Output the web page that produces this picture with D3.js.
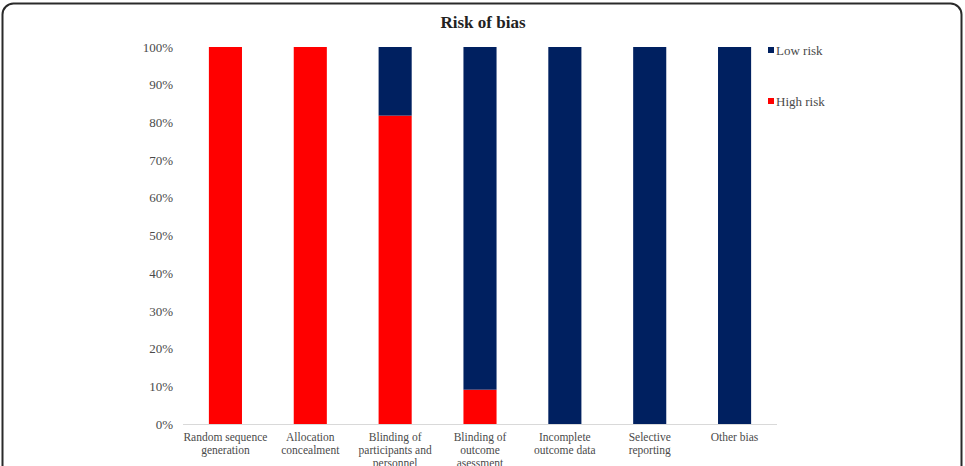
<!DOCTYPE html>
<html><head><meta charset="utf-8">
<script src="https://cdn.jsdelivr.net/npm/d3@7"></script>
<style>body{margin:0;background:#fff;}svg{display:block;}</style>
</head><body>
<svg id="c" width="965" height="466"></svg>
<script>
const categories = [
  ["Random sequence", "generation"],
  ["Allocation", "concealment"],
  ["Blinding of", "participants and", "personnel"],
  ["Blinding of", "outcome", "asessment"],
  ["Incomplete", "outcome data"],
  ["Selective", "reporting"],
  ["Other bias"]
];
const highRisk = [100, 100, 81.8, 9.1, 0, 0, 0];
const lowRisk  = [0, 0, 18.2, 90.9, 100, 100, 100];
const seriesNames = ["Low risk", "High risk"];
const seriesColors = ["#002060", "#FF0000"];
const yTicks = [0,10,20,30,40,50,60,70,80,90,100];

const svg = d3.select("#c");
const font = "'Liberation Serif','Times New Roman',serif";
const txt = "#4a4a4a";

svg.append("rect").attr("x",2.5).attr("y",3.5).attr("width",959).attr("height",480)
  .attr("rx",11).attr("fill","#fff").attr("stroke","#2a2a2a").attr("stroke-width",2);

svg.append("text").attr("x",483).attr("y",28).attr("text-anchor","middle")
  .attr("font-family",font).attr("font-weight","bold").attr("font-size",17).attr("fill","#222")
  .text("Risk of bias");

const x = d3.scaleBand().domain(d3.range(categories.length)).range([183,777]).paddingInner(0.61).paddingOuter(0.305);
const y = d3.scaleLinear().domain([0,100]).range([424,47]);

const yAxis = d3.axisLeft(y).tickValues(yTicks).tickFormat(d=>d+"%").tickSize(0).tickPadding(10);
const gy = svg.append("g").attr("transform","translate(183,0)").call(yAxis);
gy.select(".domain").remove();
gy.selectAll("text").attr("font-family",font).attr("font-size",13).attr("fill",txt);

const data = categories.map((c,i)=>({i, high:highRisk[i], low:lowRisk[i]}));
const g = svg.append("g");
g.selectAll("rect.high").data(data).join("rect").attr("class","high")
  .attr("x",d=>x(d.i)).attr("width",x.bandwidth())
  .attr("y",d=>y(d.high)).attr("height",d=>y(0)-y(d.high)).attr("fill",seriesColors[1]);
g.selectAll("rect.low").data(data).join("rect").attr("class","low")
  .attr("x",d=>x(d.i)).attr("width",x.bandwidth())
  .attr("y",d=>y(d.high+d.low)).attr("height",d=>y(d.high)-y(d.high+d.low)).attr("fill",seriesColors[0]);

svg.append("line").attr("x1",183).attr("x2",777).attr("y1",424.5).attr("y2",424.5)
  .attr("stroke","#d9d9d9").attr("stroke-width",1);

const xl = svg.append("g");
categories.forEach((lines,i)=>{
  const t = xl.append("text").attr("x",x(i)+x.bandwidth()/2).attr("y",441)
    .attr("text-anchor","middle").attr("font-family",font).attr("font-size",11.5).attr("fill",txt);
  lines.forEach((l,k)=>t.append("tspan").attr("x",x(i)+x.bandwidth()/2).attr("dy",k?13:0).text(l));
});

const leg = svg.append("g");
seriesNames.forEach((n,k)=>{
  const yy = 50 + k*51;
  leg.append("rect").attr("x",768).attr("y",yy-3).attr("width",6).attr("height",6).attr("fill",seriesColors[k]);
  leg.append("text").attr("x",776).attr("y",yy+4.5).attr("font-family",font).attr("font-size",13)
    .attr("fill",txt).text(n);
});
</script>
</body></html>
